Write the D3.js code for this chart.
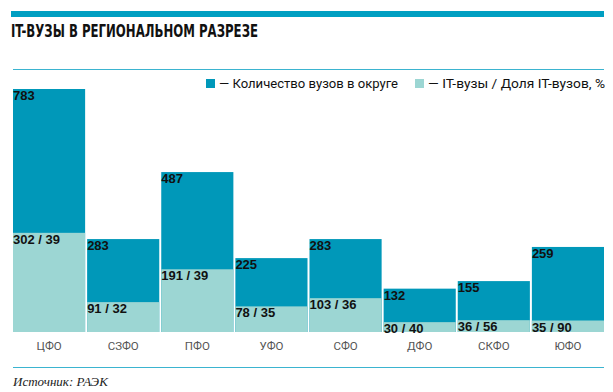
<!DOCTYPE html>
<html>
<head>
<meta charset="utf-8">
<script src="https://cdn.jsdelivr.net/npm/d3@7"></script>
<style>
  body { margin: 0; background: #fff; }
  svg { display: block; }
</style>
</head>
<body>
<script>
const regions = ['ЦФО', 'СЗФО', 'ПФО', 'УФО', 'СФО', 'ДФО', 'СКФО', 'ЮФО'];
const totalUni = [783, 283, 487, 225, 283, 132, 155, 259];
const itUni = [302, 91, 191, 78, 103, 30, 36, 35];
const itShare = [39, 32, 39, 35, 36, 40, 56, 90];

const width = 613;
const height = 392;
const dark = '#0098b9';
const light = '#9cd6d3';

const svg = d3.select('body').append('svg')
    .attr('width', width)
    .attr('height', height);

// top band + title
svg.append('rect')
    .attr('x', 11).attr('y', 11)
    .attr('width', 593).attr('height', 6)
    .attr('fill', '#009fc2');

svg.append('text')
    .attr('x', 11).attr('y', 37)
    .attr('font-family', '"Liberation Sans Narrow", "DejaVu Sans Condensed", sans-serif')
    .attr('font-weight', 'bold')
    .attr('font-size', 17)
    .attr('textLength', 247)
    .attr('lengthAdjust', 'spacingAndGlyphs')
    .attr('fill', '#111')
    .text('IT-ВУЗЫ В РЕГИОНАЛЬНОМ РАЗРЕЗЕ');

svg.append('line')
    .attr('x1', 13).attr('x2', 604)
    .attr('y1', 69.5).attr('y2', 69.5)
    .attr('stroke', '#3bb4d0').attr('stroke-width', 1);

// legend
const legend = [
    { color: dark, label: '— Количество вузов в округе', x: 206, len: 179 },
    { color: light, label: '— IT-вузы / Доля IT-вузов, %', x: 415, len: 177 }
];
const lg = svg.selectAll('g.legend')
    .data(legend)
    .enter()
    .append('g')
    .attr('class', 'legend')
    .attr('transform', d => `translate(${d.x}, 79)`);
lg.append('rect')
    .attr('width', 9).attr('height', 9)
    .attr('fill', d => d.color);
lg.append('text')
    .attr('x', 13).attr('y', 9)
    .attr('font-family', 'Roboto, sans-serif')
    .attr('font-size', 12.5)
    .attr('textLength', d => d.len)
    .attr('lengthAdjust', 'spacingAndGlyphs')
    .attr('fill', '#111')
    .text(d => d.label);

// scales
const xScale = d3.scaleBand()
    .domain(regions)
    .range([13, 604])
    .paddingInner(0.027)
    .paddingOuter(0);

const yScale = d3.scaleLinear()
    .domain([0, 740])
    .range([332, 89])
    .clamp(true);

const rows = regions.map((r, i) => ({ region: r, total: totalUni[i], it: itUni[i], share: itShare[i] }));

const bars = svg.selectAll('g.bar')
    .data(rows)
    .enter()
    .append('g')
    .attr('class', 'bar');

bars.append('rect')
    .attr('x', d => xScale(d.region))
    .attr('y', d => yScale(d.total))
    .attr('width', xScale.bandwidth())
    .attr('height', d => yScale(0) - yScale(d.total))
    .attr('fill', dark);

bars.append('rect')
    .attr('x', d => xScale(d.region))
    .attr('y', d => yScale(d.it))
    .attr('width', xScale.bandwidth())
    .attr('height', d => yScale(0) - yScale(d.it))
    .attr('fill', light);

const labelFont = '"Liberation Sans", Arial, sans-serif';

bars.append('text')
    .attr('x', d => xScale(d.region))
    .attr('y', d => yScale(d.total) + 11)
    .attr('font-family', labelFont)
    .attr('font-weight', 'bold')
    .attr('font-size', 13)
    .attr('fill', '#111')
    .text(d => d.total);

bars.append('text')
    .attr('x', d => xScale(d.region))
    .attr('y', d => yScale(d.it) + 11)
    .attr('font-family', labelFont)
    .attr('font-weight', 'bold')
    .attr('font-size', 13)
    .attr('fill', '#111')
    .text(d => `${d.it} / ${d.share}`);

// x axis labels
const xAxis = d3.axisBottom(xScale).tickSize(0).tickPadding(10);
const gx = svg.append('g')
    .attr('transform', 'translate(0, 332)')
    .call(xAxis);
gx.select('.domain').remove();
gx.selectAll('text')
    .attr('font-family', 'Roboto, sans-serif')
    .attr('font-size', 11.5)
    .attr('fill', '#555');

// footer
svg.append('line')
    .attr('x1', 13).attr('x2', 604)
    .attr('y1', 367.5).attr('y2', 367.5)
    .attr('stroke', '#3bb4d0').attr('stroke-width', 1);

svg.append('text')
    .attr('x', 13).attr('y', 386)
    .attr('font-family', '"Liberation Serif", serif')
    .attr('font-style', 'italic')
    .attr('font-size', 13)
    .attr('fill', '#222')
    .text('Источник: РАЭК');
</script>
</body>
</html>
